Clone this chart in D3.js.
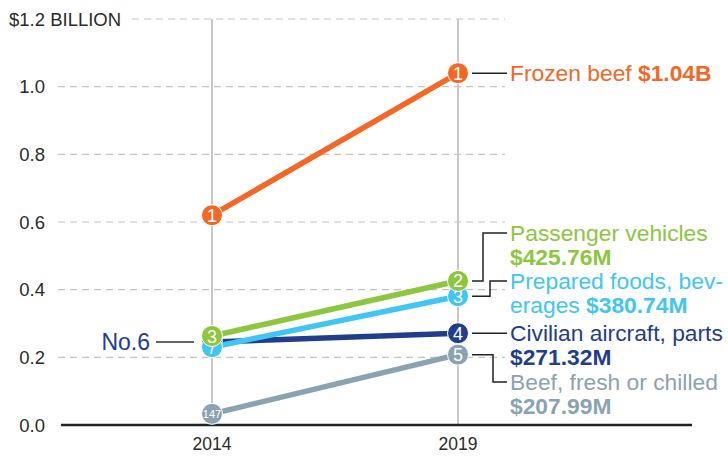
<!DOCTYPE html>
<html>
<head>
<meta charset="utf-8">
<script src="https://cdn.jsdelivr.net/npm/d3@7"></script>
<style>
  body { margin: 0; background: #fff; }
  svg { font-family: "Liberation Sans", Arial, Helvetica, sans-serif; }
</style>
</head>
<body>
<svg width="728" height="457"></svg>
<script>
const years = [2014, 2019]
const products = ["Beef, fresh or chilled", "Civilian aircraft, parts", "Prepared foods, beverages", "Passenger vehicles", "Frozen beef"]
const val2014 = [0.033, 0.245, 0.23, 0.263, 0.62]
const val2019 = [0.20799, 0.27132, 0.38074, 0.42576, 1.04]
const rank2014 = ["147", "6", "7", "3", "1"]
const rank2019 = ["5", "4", "3", "2", "1"]
const labelLines = [
  [["Beef, fresh or chilled", ""], ["", "$207.99M"]],
  [["Civilian aircraft, parts", ""], ["", "$271.32M"]],
  [["Prepared foods, bev-", ""], ["erages ", "$380.74M"]],
  [["Passenger vehicles", ""], ["", "$425.76M"]],
  [["Frozen beef ", "$1.04B"]]
]
// where the first label line sits, in billions
const labelAt = [0.127, 0.272, 0.4256, 0.5675, 1.04]
const colors = ["#8aa3b1", "#213e8c", "#3fc6f2", "#8dc63f", "#f26824"]
const yTicks = [0, 0.2, 0.4, 0.6, 0.8, 1.0, 1.2]

const svg = d3.select("svg")
const x = d3.scaleLinear().domain([2014, 2019]).range([212, 458])
const y = d3.scaleLinear().domain([0, 1.2]).range([425, 19])

// grid
svg.selectAll(".grid")
  .data(yTicks.filter(t => t > 0))
  .enter().append("line")
  .attr("x1", d => d === 1.2 ? 132 : 58)
  .attr("x2", 505)
  .attr("y1", d => y(d)).attr("y2", d => y(d))
  .style("stroke", "#c4c4c4")
  .style("stroke-width", 1.2)
  .style("stroke-dasharray", "7,5")

svg.selectAll(".ylab")
  .data(yTicks)
  .enter().append("text")
  .attr("x", d => d === 1.2 ? 9 : 45)
  .attr("y", d => y(d) + 6.5)
  .attr("text-anchor", d => d === 1.2 ? "start" : "end")
  .style("font-size", "18.5px")
  .style("fill", "#2b2b2b")
  .text(d => d === 1.2 ? "$1.2 BILLION" : d3.format(".1f")(d))

// year verticals
svg.selectAll(".vline")
  .data(years)
  .enter().append("line")
  .attr("x1", d => x(d)).attr("x2", d => x(d))
  .attr("y1", y(1.2)).attr("y2", y(0))
  .style("stroke", "#c8c8c8")
  .style("stroke-width", 2)

svg.selectAll(".xlab")
  .data(years)
  .enter().append("text")
  .attr("x", d => x(d))
  .attr("y", 450)
  .attr("text-anchor", "middle")
  .style("font-size", "17.5px")
  .style("fill", "#2b2b2b")
  .text(d => d)

svg.append("line")
  .attr("x1", 61).attr("x2", 692)
  .attr("y1", y(0)).attr("y2", y(0))
  .style("stroke", "#222")
  .style("stroke-width", 2.5)

// No.6 callout (its dot hides under the others)
svg.append("line")
  .attr("x1", 156).attr("x2", 194)
  .attr("y1", y(val2014[1])).attr("y2", y(val2014[1]))
  .style("stroke", "#333").style("stroke-width", 1.5)
svg.append("text")
  .attr("x", 150).attr("y", y(val2014[1]) + 8)
  .attr("text-anchor", "end")
  .style("font-size", "23px")
  .style("fill", colors[1])
  .text("No." + rank2014[1])

// connectors from 2019 points to labels
const xc0 = x(2019) + 14, xl = 507
const elbow = [493, null, 490, 483, null]
products.forEach((p, i) => {
  const y0 = y(val2019[i]), y1 = y(labelAt[i])
  const pts = elbow[i] == null
    ? [[xc0, y0], [xl, y0]]
    : [[xc0, y0], [elbow[i], y0], [elbow[i], y1], [xl, y1]]
  svg.append("path")
    .attr("d", d3.line()(pts))
    .style("fill", "none")
    .style("stroke", "#222")
    .style("stroke-width", 1.5)
})

// lines and dots
const g = svg.selectAll(".series")
  .data(products.map((p, i) => ({ i, p })))
  .enter().append("g")

g.append("line")
  .attr("x1", x(2014)).attr("x2", x(2019))
  .attr("y1", d => y(val2014[d.i])).attr("y2", d => y(val2019[d.i]))
  .style("stroke", d => colors[d.i])
  .style("stroke-width", 5.5)

years.forEach((yr, k) => {
  g.append("circle")
    .attr("cx", x(yr))
    .attr("cy", d => y(k ? val2019[d.i] : val2014[d.i]))
    .attr("r", 10.5)
    .style("fill", d => colors[d.i])
    .style("stroke", "#fff")
    .style("stroke-width", 1)
  g.filter(d => k || d.i !== 1).append("text")
    .attr("x", x(yr))
    .attr("y", d => y(k ? val2019[d.i] : val2014[d.i]) + (k || rank2014[d.i].length < 3 ? 6.5 : 4))
    .attr("text-anchor", "middle")
    .style("fill", "#fff")
    .style("font-size", d => (!k && rank2014[d.i].length > 2) ? "11px" : "18px")
    .text(d => k ? rank2019[d.i] : rank2014[d.i])
})

// labels
products.forEach((p, i) => {
  const t = svg.append("text")
    .attr("x", 510)
    .style("font-size", "22.8px")
    .style("fill", colors[i])
  labelLines[i].forEach((line, j) => {
    const ts = t.append("tspan").attr("x", 510).attr("y", y(labelAt[i]) + 8 + j * 24)
    ts.append("tspan").text(line[0])
    if (line[1]) ts.append("tspan").style("font-weight", "bold").text(line[1])
  })
})
</script>
</body>
</html>
